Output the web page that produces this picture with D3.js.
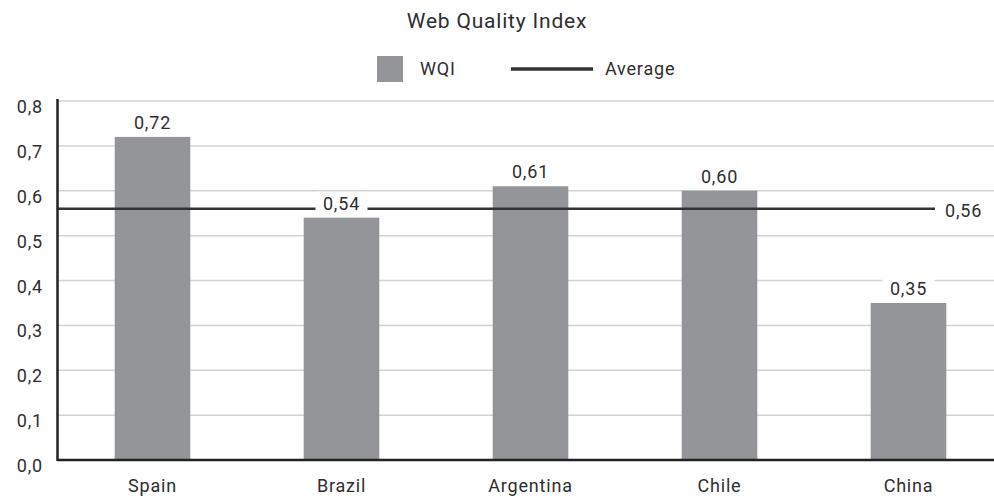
<!DOCTYPE html>
<html><head><meta charset="utf-8">
<script src="https://cdn.jsdelivr.net/npm/d3@7"></script>
<style>body{margin:0;background:#fff;} text{font-family:"Roboto","DejaVu Sans",sans-serif;letter-spacing:0.8px;}</style>
</head><body><svg id="c" width="994" height="500"></svg>
<script>
const categories = ["Spain","Brazil","Argentina","Chile","China"];
const wqiValues = [0.72,0.54,0.61,0.60,0.35];
const averageValue = 0.56;
const yTicks = [0,0.1,0.2,0.3,0.4,0.5,0.6,0.7,0.8];
const titleText = "Web Quality Index";

const svg = d3.select("#c");
const fmt = v => d3.format(".1f")(v).replace(".", ",");
const fmt2 = v => d3.format(".2f")(v).replace(".", ",");
const barColor = "#939598", lineColor = "#333333", textColor = "#2e2e2e";

const x = d3.scaleBand().domain(categories).range([58, 1003]).paddingInner(0.6).paddingOuter(0.3);
const y = d3.scaleLinear().domain([0, 0.8]).range([460, 101]);

// title
svg.append("text").attr("x", 497).attr("y", 28).attr("text-anchor","middle")
  .attr("font-size", 21).attr("fill", textColor).text(titleText);

// legend
svg.append("rect").attr("x",377).attr("y",56).attr("width",26).attr("height",26).attr("fill",barColor);
svg.append("text").attr("x",420).attr("y",75).attr("font-size",18).attr("fill",textColor).text("WQI");
svg.append("line").attr("x1",511).attr("x2",593).attr("y1",69).attr("y2",69).attr("stroke",lineColor).attr("stroke-width",3.5);
svg.append("text").attr("x",605).attr("y",75).attr("font-size",18).attr("fill",textColor).text("Average");

// gridlines
svg.append("g").selectAll("line").data(yTicks.filter(d=>d>0)).join("line")
  .attr("x1",58).attr("x2",994).attr("y1",d=>y(d)).attr("y2",d=>y(d))
  .attr("stroke","#d2d2d2").attr("stroke-width",1.5);

// y axis labels
svg.append("g").selectAll("text").data(yTicks).join("text")
  .attr("x",43).attr("y",d=>y(d)+12).attr("text-anchor","end")
  .attr("font-size",18).attr("fill",textColor).text(fmt);

// bars
svg.append("g").selectAll("rect").data(categories).join("rect")
  .attr("x",d=>x(d)).attr("width",x.bandwidth())
  .attr("y",(d,i)=>y(wqiValues[i])).attr("height",(d,i)=>y(0)-y(wqiValues[i]))
  .attr("fill",barColor);

// average line
svg.append("line").attr("x1",58).attr("x2",935).attr("y1",y(averageValue)).attr("y2",y(averageValue))
  .attr("stroke",lineColor).attr("stroke-width",2.5);
svg.append("text").attr("x",945).attr("y",y(averageValue)+8).attr("font-size",18).attr("fill",textColor).text(fmt2(averageValue));

// bar value labels with background
const lg = svg.append("g").selectAll("g").data(categories).join("g");
lg.append("rect")
  .attr("x",d=>x(d)+x.bandwidth()/2-26).attr("width",52)
  .attr("y",(d,i)=>y(wqiValues[i])-26).attr("height",20)
  .attr("fill","#ffffff");
lg.append("text")
  .attr("x",d=>x(d)+x.bandwidth()/2).attr("y",(d,i)=>y(wqiValues[i])-8)
  .attr("text-anchor","middle").attr("font-size",18).attr("fill",textColor)
  .text((d,i)=>fmt2(wqiValues[i]));

// axes lines
svg.append("line").attr("x1",57.5).attr("x2",57.5).attr("y1",99).attr("y2",461).attr("stroke","#222").attr("stroke-width",2.5);
svg.append("line").attr("x1",57).attr("x2",994).attr("y1",460).attr("y2",460).attr("stroke","#222").attr("stroke-width",2.5);

// x labels
svg.append("g").selectAll("text").data(categories).join("text")
  .attr("x",d=>x(d)+x.bandwidth()/2).attr("y",492).attr("text-anchor","middle")
  .attr("font-size",18).attr("fill",textColor).text(d=>d);
</script></body></html>
